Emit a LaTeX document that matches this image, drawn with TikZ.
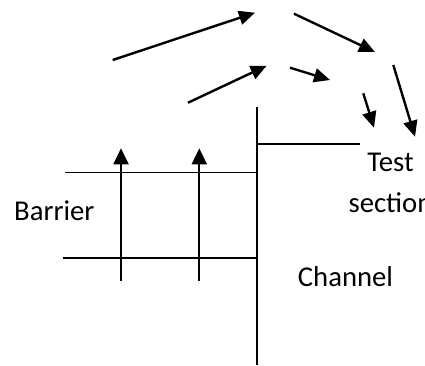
\documentclass[tikz,border=0pt]{standalone}
\usepackage{fontspec}
\setmainfont{Carlito}
\usetikzlibrary{arrows.meta}
\begin{document}
\begin{tikzpicture}[x=1pt,y=-1pt,
  flow/.style={line width=2.4pt,-{Triangle[length=16pt,width=14pt]}},
  rise/.style={line width=2pt,-{Triangle[length=16pt,width=15pt]}},
  wall/.style={line width=1.6pt},
  lbl/.style={inner sep=0pt,font=\fontsize{28.7}{41.7}\selectfont}]
\useasboundingbox (0,0) rectangle (425,365);
% flow arrows
\coordinate (a1s) at (112.7,60);  \coordinate (a1e) at (255,12.7);
\coordinate (a2s) at (294,13.7);  \coordinate (a2e) at (375,52);
\coordinate (a3s) at (188,102.7); \coordinate (a3e) at (266.7,65.7);
\coordinate (a4s) at (290,67.7);  \coordinate (a4e) at (330,80);
\coordinate (a5s) at (363.3,93.3);\coordinate (a5e) at (374,127.7);
\coordinate (a6s) at (393.3,65);  \coordinate (a6e) at (415,136.7);
\draw[flow] (a1s) -- (a1e);
\draw[flow] (a2s) -- (a2e);
\draw[flow] (a3s) -- (a3e);
\draw[flow] (a4s) -- (a4e);
\draw[flow] (a5s) -- (a5e);
\draw[flow] (a6s) -- (a6e);
% walls
\coordinate (vt) at (257,107.3); \coordinate (vb) at (257,365);
\coordinate (tr) at (360,144);   \coordinate (tl) at (257,144);
\coordinate (ul) at (65,172.3);  \coordinate (ur) at (257,172.3);
\coordinate (ll) at (62.7,258);  \coordinate (lr) at (257,258);
\draw[wall] (vt) -- (vb);
\draw[wall] (tl) -- (tr);
\draw[wall] (ul) -- (ur);
\draw[wall] (ll) -- (lr);
% rising arrows
\coordinate (r1s) at (121,280.7); \coordinate (r1e) at (121,148.3);
\coordinate (r2s) at (199.3,280.7); \coordinate (r2e) at (199.3,148.3);
\draw[rise] (r1s) -- (r1e);
\draw[rise] (r2s) -- (r2e);
% labels
\node[lbl,anchor=base west] (barrier) at (14,220.7) {Barrier};
\node[lbl,anchor=base west] (channel) at (297.7,286) {Channel};
\node[lbl,anchor=north,align=center] (test) at (390.5,152.5) {Test\\section};
\end{tikzpicture}
\end{document}
